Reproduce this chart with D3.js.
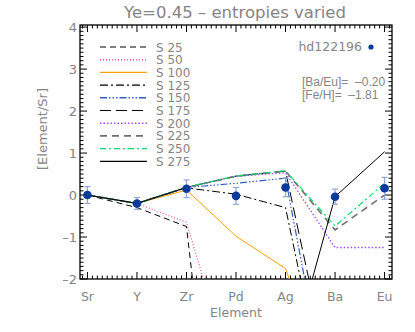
<!DOCTYPE html>
<html>
<head>
<meta charset="utf-8">
<script src="https://cdn.jsdelivr.net/npm/d3@7"></script>
<style>
  body { margin: 0; background: #fff; }
  text { font-family: "DejaVu Sans", sans-serif; fill: #858585; }
</style>
</head>
<body>
<div id="chart"></div>
<script>
// element abundances relative to Sr
var elements = ["Sr", "Y", "Zr", "Pd", "Ag", "Ba", "Eu"];
var star = "hd122196";
var obsValues = [0.0, -0.2, 0.15, -0.02, 0.18, -0.04, 0.16];
var obsErrors = [0.2, 0.14, 0.21, 0.2, 0.22, 0.18, 0.26];
var infoLines = ["[Ba/Eu]=  \u20130.20", "[Fe/H]=  \u20131.81"];

// model lines, one per entropy (null = no value)
var s25  = [0, -0.3, -0.75, -11, -12, -12, -12];
var s50  = [0, -0.2, -0.65, -4.6, -8, -8, -8];
var s100 = [0, -0.2, 0.12, -0.98, -1.75, -5, -5];
var s125 = [0, -0.2, 0.17, 0.02, -0.3, -5.9, -5.9];
var s150 = [0, -0.2, 0.18, 0.28, 0.4, -5.8, -5.8];
var s175 = [0, -0.2, 0.18, 0.45, 0.57, -4.9, -4.9];
var s200 = [0, -0.2, 0.18, 0.45, 0.53, -1.25, -1.25];
var s225 = [0, -0.2, 0.18, 0.45, 0.57, -0.83, 0.0];
var s250 = [0, -0.2, 0.19, 0.45, 0.58, -0.74, 0.28];
var s275 = [0, -0.2, 0.18, null, -4.3, -0.04, 1.03];

var entropies = [25, 50, 100, 125, 150, 175, 200, 225, 250, 275];
var seriesVals = [s25, s50, s100, s125, s150, s175, s200, s225, s250, s275];
var colors = ["#000", "#ff5c7c", "#ffa000", "#000", "#2f5fc4", "#000", "#a24dff", "#707070", "#00dd6a", "#000"];
var dashes = ["6,4", "1,2", null, "8,3,2,3", "7,2,1.5,2,1.5,2,1.5,2", "11,5", "1.5,2", "7,5", "6,3,2,3", null];
var widths = [1, 1.2, 1, 1, 1.2, 1, 1.3, 1.6, 1.2, 1];

var W = 415, H = 332;
var margin = {top: 25, right: 23, bottom: 53, left: 80};
var w = W - margin.left - margin.right,
    h = H - margin.top - margin.bottom;

var svg = d3.select("#chart").append("svg")
  .attr("width", W)
  .attr("height", H);

var x = d3.scaleLinear().domain([-0.15, 6.15]).range([0, w]);
var y = d3.scaleLinear().domain([-2, 4.05]).range([h, 0]);

var g = svg.append("g").attr("transform", "translate(" + margin.left + "," + margin.top + ")");

svg.append("defs").append("clipPath").attr("id", "clip")
  .append("rect").attr("width", w).attr("height", h);

// title
svg.append("text")
  .attr("x", margin.left + w / 2 - 1)
  .attr("y", 18)
  .attr("text-anchor", "middle")
  .style("font-size", "16.5px")
  .text("Ye=0.45 \u2013 entropies varied");

// ticks, IDL style on all four sides
var xMinor = d3.range(-1, 62).map(function(d) { return d / 10; });
var yMinor = d3.range(-20, 41).map(function(d) { return d / 10; });
var ax = g.append("g").attr("stroke", "#000").attr("stroke-width", 1);
xMinor.forEach(function(t) {
  var len = Math.abs(t - Math.round(t)) < 1e-6 ? 7 : 3.5;
  ax.append("line").attr("x1", x(t)).attr("x2", x(t)).attr("y1", h).attr("y2", h - len);
  ax.append("line").attr("x1", x(t)).attr("x2", x(t)).attr("y1", 0).attr("y2", len);
});
yMinor.forEach(function(t) {
  var len = Math.abs(t - Math.round(t)) < 1e-6 ? 7 : 3.5;
  ax.append("line").attr("y1", y(t)).attr("y2", y(t)).attr("x1", 0).attr("x2", len);
  ax.append("line").attr("y1", y(t)).attr("y2", y(t)).attr("x1", w).attr("x2", w - len);
});
g.append("rect").attr("width", w).attr("height", h)
  .attr("fill", "none").attr("stroke", "#000").attr("stroke-width", 1.3);

// tick labels
g.selectAll(".xl").data(elements).enter().append("text")
  .attr("x", function(d, i) { return x(i); })
  .attr("y", h + 22)
  .attr("text-anchor", "middle")
  .style("font-size", "12.5px")
  .text(function(d) { return d; });

g.selectAll(".yl").data(d3.range(-2, 5)).enter().append("text")
  .attr("x", -3)
  .attr("y", function(d) { return y(d) + 5; })
  .attr("text-anchor", "end")
  .style("font-size", "13px")
  .text(function(d) { return d < 0 ? "\u2013" + (-d) : d; });

g.append("text")
  .attr("x", w / 2)
  .attr("y", h + 38)
  .attr("text-anchor", "middle")
  .style("font-size", "12.5px")
  .text("Element");

g.append("text")
  .attr("transform", "translate(-33," + (h / 2 - 23) + ") rotate(-90)")
  .attr("text-anchor", "middle")
  .style("font-size", "13px")
  .text("[Element/Sr]");

// model lines
var line = d3.line()
  .defined(function(d) { return d != null; })
  .x(function(d, i) { return x(i); })
  .y(function(d) { return y(d); });

var lines = g.append("g").attr("clip-path", "url(#clip)");
seriesVals.forEach(function(vals, k) {
  lines.append("path")
    .attr("d", line(vals))
    .attr("fill", "none")
    .attr("stroke", colors[k])
    .attr("stroke-width", widths[k])
    .attr("stroke-dasharray", dashes[k]);
});

// observations
var obs = g.append("g");
obsValues.forEach(function(v, i) {
  var e = obsErrors[i];
  obs.append("line").attr("x1", x(i)).attr("x2", x(i))
    .attr("y1", y(v - e)).attr("y2", y(v + e))
    .attr("stroke", "#8ea6d6").attr("stroke-width", 1.2);
  [v - e, v + e].forEach(function(t) {
    obs.append("line").attr("x1", x(i) - 3).attr("x2", x(i) + 3)
      .attr("y1", y(t)).attr("y2", y(t))
      .attr("stroke", "#8ea6d6").attr("stroke-width", 1.2);
  });
  obs.append("circle").attr("cx", x(i)).attr("cy", y(v)).attr("r", 4.3)
    .attr("fill", "#0a3a9c");
});

// legend
var leg = g.append("g").attr("transform", "translate(20,22)");
entropies.forEach(function(s, k) {
  var ly = k * 12.7;
  leg.append("line").attr("x1", 0).attr("x2", 47).attr("y1", ly).attr("y2", ly)
    .attr("stroke", colors[k]).attr("stroke-width", widths[k] + 0.2)
    .attr("stroke-dasharray", dashes[k]);
  leg.append("text").attr("x", 56).attr("y", ly + 4.5)
    .style("font-size", "12px")
    .text("S " + s);
});

// star info
g.append("text").attr("x", 282).attr("y", 26)
  .attr("text-anchor", "end")
  .style("font-size", "12.5px")
  .text(star);
g.append("circle").attr("cx", 291).attr("cy", 22).attr("r", 2.6).attr("fill", "#0a3a9c");
infoLines.forEach(function(t, i) {
  g.append("text").attr("x", 222).attr("y", 60.5 + i * 13.5)
    .attr("xml:space", "preserve")
    .style("white-space", "pre")
    .style("font-family", "'Liberation Sans', sans-serif")
    .style("font-size", "12px")
    .text(t);
});
</script>
</body>
</html>
